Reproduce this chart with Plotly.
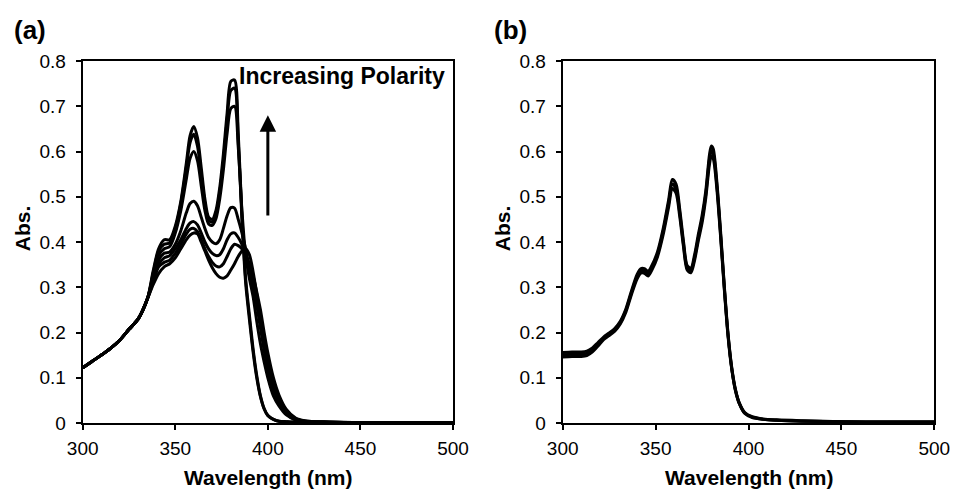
import plotly.graph_objects as go

# ---------------- Panel (a): spectra in solvents of increasing polarity ----------------
wl_a = [300, 305, 310, 315, 320, 325, 330, 335, 338, 341, 344, 347, 350, 353, 356, 358,
        360, 362, 364, 366, 368, 370, 372, 374, 376, 378, 380, 382, 384, 386, 388, 390,
        392, 394, 396, 398, 400, 403, 406, 410, 415, 420, 430, 450, 475, 500]

base_a = [0.122, 0.136, 0.150, 0.165, 0.183, 0.207, 0.230, 0.275]

abs_a1 = base_a + [0.335, 0.385, 0.405, 0.405, 0.435, 0.490, 0.575, 0.635,
                   0.655, 0.630, 0.565, 0.495, 0.455, 0.450, 0.470, 0.520, 0.595, 0.685, 0.755, 0.758, 0.640, 0.460, 0.320, 0.240,
                   0.165, 0.105, 0.060, 0.032, 0.017, 0.008, 0.004, 0.003, 0.002, 0.002, 0.001, 0.001, 0.001, 0.001]
abs_a2 = base_a + [0.330, 0.380, 0.395, 0.398, 0.430, 0.485, 0.565, 0.620,
                   0.638, 0.612, 0.550, 0.485, 0.448, 0.444, 0.462, 0.510, 0.580, 0.670, 0.735, 0.740, 0.625, 0.450, 0.310, 0.230,
                   0.158, 0.100, 0.058, 0.031, 0.016, 0.008, 0.004, 0.003, 0.002, 0.002, 0.001, 0.001, 0.001, 0.001]
abs_a3 = base_a + [0.325, 0.370, 0.385, 0.390, 0.420, 0.470, 0.540, 0.585,
                   0.600, 0.580, 0.525, 0.470, 0.440, 0.437, 0.452, 0.495, 0.560, 0.640, 0.695, 0.700, 0.610, 0.470, 0.370, 0.320,
                   0.280, 0.225, 0.175, 0.135, 0.100, 0.060, 0.038, 0.018, 0.007, 0.003, 0.002, 0.001, 0.001, 0.001]
abs_b1 = base_a + [0.320, 0.360, 0.375, 0.378, 0.395, 0.425, 0.465, 0.485,
                   0.490, 0.480, 0.455, 0.430, 0.410, 0.400, 0.396, 0.405, 0.430, 0.458, 0.476, 0.475, 0.450, 0.420, 0.385, 0.340,
                   0.300, 0.260, 0.210, 0.160, 0.120, 0.075, 0.045, 0.022, 0.008, 0.004, 0.002, 0.001, 0.001, 0.001]
abs_b2 = base_a + [0.315, 0.350, 0.365, 0.370, 0.385, 0.405, 0.430, 0.442,
                   0.445, 0.438, 0.420, 0.400, 0.385, 0.375, 0.370, 0.372, 0.385, 0.405, 0.418, 0.420, 0.410, 0.395, 0.375, 0.350,
                   0.315, 0.280, 0.235, 0.185, 0.140, 0.090, 0.055, 0.027, 0.010, 0.004, 0.002, 0.001, 0.001, 0.001]
abs_b3 = base_a + [0.310, 0.345, 0.355, 0.360, 0.375, 0.395, 0.418, 0.428,
                   0.430, 0.423, 0.405, 0.385, 0.368, 0.355, 0.347, 0.345, 0.352, 0.368, 0.385, 0.395, 0.392, 0.385, 0.370, 0.350,
                   0.325, 0.290, 0.250, 0.200, 0.155, 0.100, 0.062, 0.030, 0.011, 0.005, 0.002, 0.001, 0.001, 0.001]
abs_c1 = base_a + [0.305, 0.330, 0.345, 0.352, 0.365, 0.385, 0.405, 0.415,
                   0.420, 0.418, 0.400, 0.380, 0.360, 0.343, 0.330, 0.322, 0.320, 0.325, 0.338, 0.352, 0.368, 0.380, 0.385, 0.372,
                   0.335, 0.285, 0.230, 0.175, 0.130, 0.080, 0.045, 0.020, 0.007, 0.003, 0.002, 0.001, 0.001, 0.001]

series_a = [abs_a1, abs_a2, abs_a3, abs_b1, abs_b2, abs_b3, abs_c1]

# ---------------- Panel (b): overlapping spectra ----------------
wl_b = [300, 305, 310, 313, 316, 319, 322, 325, 328, 331, 334, 337, 340, 342, 344, 346,
        348, 351, 354, 357, 359, 361, 363, 365, 367, 369, 371, 373, 375, 377, 379, 380,
        381, 383, 385, 387, 389, 391, 393, 395, 398, 402, 408, 415, 430, 450, 475, 500]

abs_d1 = [0.156, 0.157, 0.157, 0.159, 0.166, 0.178, 0.190, 0.199, 0.209, 0.225, 0.252, 0.292,
          0.328, 0.341, 0.341, 0.335, 0.348, 0.378, 0.428, 0.493, 0.538, 0.528, 0.472, 0.402,
          0.348, 0.342, 0.372, 0.417, 0.458, 0.513, 0.593, 0.612, 0.606, 0.532, 0.422, 0.302,
          0.197, 0.122, 0.074, 0.045, 0.023, 0.014, 0.009, 0.007, 0.005, 0.003, 0.002, 0.002]
abs_d2 = [0.151, 0.152, 0.152, 0.154, 0.161, 0.174, 0.187, 0.196, 0.206, 0.222, 0.249, 0.288,
          0.323, 0.336, 0.336, 0.330, 0.343, 0.373, 0.422, 0.485, 0.528, 0.518, 0.464, 0.396,
          0.343, 0.337, 0.366, 0.410, 0.450, 0.505, 0.583, 0.601, 0.596, 0.524, 0.416, 0.298,
          0.194, 0.120, 0.072, 0.044, 0.022, 0.013, 0.008, 0.006, 0.004, 0.003, 0.002, 0.002]
abs_d3 = [0.146, 0.147, 0.147, 0.149, 0.157, 0.170, 0.184, 0.193, 0.203, 0.219, 0.245, 0.284,
          0.318, 0.331, 0.331, 0.325, 0.338, 0.367, 0.415, 0.477, 0.518, 0.508, 0.456, 0.390,
          0.338, 0.332, 0.360, 0.403, 0.442, 0.497, 0.572, 0.590, 0.585, 0.516, 0.410, 0.294,
          0.191, 0.118, 0.071, 0.043, 0.021, 0.012, 0.008, 0.006, 0.004, 0.003, 0.002, 0.002]

series_b = [abs_d1, abs_d2, abs_d3]

x_ticks = [300, 350, 400, 450, 500]
y_ticks = [0, 0.1, 0.2, 0.3, 0.4, 0.5, 0.6, 0.7, 0.8]
y_tick_text = ["0", "0.1", "0.2", "0.3", "0.4", "0.5", "0.6", "0.7", "0.8"]
x_title = "Wavelength (nm)"
y_title = "Abs."

FONT = "Liberation Sans, Arial, sans-serif"
W, H = 953, 491

# plot-area pixel bounds of the two panels
X0A, X1A = 82.7, 453.0
X0B, X1B = 562.7, 934.3
Y_TOP, Y_BOT = 61.0, 423.0

fig = go.Figure()
for ys in series_a:
    fig.add_trace(go.Scatter(x=wl_a, y=ys, mode="lines", xaxis="x", yaxis="y",
                             line=dict(color="black", width=3, shape="spline", smoothing=0.8),
                             showlegend=False, hoverinfo="skip"))
for ys in series_b:
    fig.add_trace(go.Scatter(x=wl_b, y=ys, mode="lines", xaxis="x2", yaxis="y2",
                             line=dict(color="black", width=3, shape="spline", smoothing=0.8),
                             showlegend=False, hoverinfo="skip"))

ybot, ytop = 1 - Y_BOT / H, 1 - Y_TOP / H

axis_common = dict(showline=True, linecolor="black", linewidth=2, mirror=True,
                   ticks="outside", ticklen=5, tickwidth=2, tickcolor="black",
                   showgrid=False, zeroline=False, automargin=False,
                   tickfont=dict(family=FONT, size=19, color="black"))

xa = dict(axis_common, range=[300, 500], tickvals=x_ticks, ticklabelstandoff=2)
ya = dict(axis_common, range=[0, 0.8], tickvals=y_ticks, ticktext=y_tick_text,
          ticklabelstandoff=6)

fig.update_layout(
    width=W, height=H,
    margin=dict(l=0, r=0, t=0, b=0),
    paper_bgcolor="white", plot_bgcolor="white",
    xaxis=dict(xa, domain=[X0A / W, X1A / W], anchor="y"),
    yaxis=dict(ya, domain=[ybot, ytop], anchor="x"),
    xaxis2=dict(xa, domain=[X0B / W, X1B / W], anchor="y2"),
    yaxis2=dict(ya, domain=[ybot, ytop], anchor="x2"),
)

title_font = dict(family=FONT, size=23, color="black")
for x0, x1, tag in [(X0A, X1A, "(a)"), (X0B, X1B, "(b)")]:
    # x-axis title
    fig.add_annotation(x=(x0 + x1) / 2 / W, y=1 - 477 / H, xref="paper", yref="paper",
                       xanchor="center", yanchor="middle", showarrow=False,
                       text="<b>" + x_title + "</b>",
                       font=dict(family=FONT, size=21, color="black"))
    # y-axis title
    fig.add_annotation(x=(x0 - 60.5) / W, y=1 - 228 / H, xref="paper", yref="paper",
                       xanchor="center", yanchor="middle", showarrow=False, textangle=-90,
                       text="<b>" + y_title + "</b>", font=dict(family=FONT, size=21, color="black"))
    # panel label
    fig.add_annotation(x=(x0 - 70.5) / W, y=1 - 30 / H, xref="paper", yref="paper",
                       xanchor="left", yanchor="middle", showarrow=False,
                       text="<b>" + tag + "</b>", font=dict(family=FONT, size=26, color="black"))

fig.add_annotation(x=497, y=0.767, xref="x", yref="y", xanchor="right", yanchor="middle",
                   text="<b>Increasing Polarity</b>", showarrow=False, font=title_font)
fig.add_annotation(x=400, y=0.68, xref="x", yref="y", ax=400, ay=0.455, axref="x", ayref="y",
                   text="", showarrow=True, arrowhead=2, arrowsize=1.1, arrowwidth=3,
                   arrowcolor="black")

fig.write_html("out.html")
